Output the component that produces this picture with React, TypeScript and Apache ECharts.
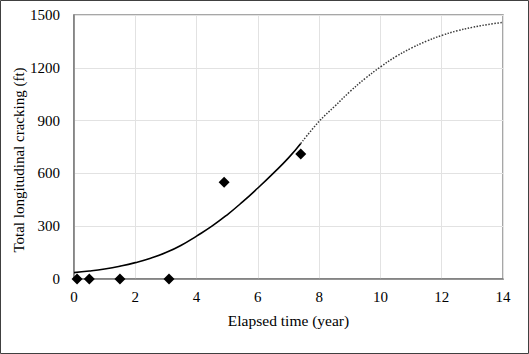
import React, { useEffect, useRef } from "react";
import * as echarts from "echarts";

const xTicks = [0, 2, 4, 6, 8, 10, 12, 14];
const yTicks = [0, 300, 600, 900, 1200, 1500];

const measuredT = [0.1, 0.5, 1.5, 3.1, 4.9, 7.4];
const measuredCracking = [0, 0, 0, 0, 550, 710];

const fitSolidT = [0, 0.5, 1, 1.5, 2, 2.5, 3, 3.5, 4, 4.5, 5, 5.5, 6, 6.5, 7, 7.4];
const fitSolidV = [36, 45, 57, 73, 93, 118, 150, 192, 244, 300, 365, 438, 517, 600, 688, 770];

const fitDottedT = [7.4, 8, 8.5, 9, 9.5, 10, 10.5, 11, 11.5, 12, 12.5, 13, 13.5, 14];
const fitDottedV = [770, 896, 980, 1064, 1139, 1205, 1263, 1311, 1351, 1384, 1410, 1430, 1446, 1458];

const xTitle = "Elapsed time (year)";
const yTitle = "Total longitudinal cracking (ft)";

const FONT = "'Times New Roman', 'Liberation Serif', serif";

export default function App() {
  const ref = useRef<HTMLDivElement>(null);
  useEffect(() => {
    document.body.style.margin = "0";
    const chart = echarts.init(ref.current!, null, { renderer: "svg" });
    chart.setOption({
      animation: false,
      backgroundColor: "#ffffff",
      textStyle: { fontFamily: FONT },
      grid: {
        left: 74,
        top: 15,
        right: 26,
        bottom: 75,
        containLabel: false,
        outerBoundsMode: "none",
        show: true,
        borderColor: "#8a8a8a",
        borderWidth: 1.5,
      },
      xAxis: {
        type: "value",
        min: xTicks[0],
        max: xTicks[xTicks.length - 1],
        interval: 2,
        name: xTitle,
        nameLocation: "middle",
        nameGap: 33,
        nameTextStyle: { fontFamily: FONT, fontSize: 15.5, color: "#000" },
        axisLine: { show: true, lineStyle: { color: "#7a7a7a", width: 1.5 } },
        axisTick: { show: false },
        axisLabel: {
          fontFamily: FONT,
          fontSize: 15,
          color: "#000",
          margin: 10,
          formatter: (v: number) => String(v),
        },
        splitLine: { show: true, lineStyle: { color: "#e2e2e2", width: 1 } },
      },
      yAxis: {
        type: "value",
        min: yTicks[0],
        max: yTicks[yTicks.length - 1],
        interval: 300,
        axisLine: { show: true, lineStyle: { color: "#7a7a7a", width: 1.5 } },
        axisTick: { show: false },
        axisLabel: {
          fontFamily: FONT,
          fontSize: 15,
          color: "#000",
          margin: 14,
          formatter: (v: number) => String(v),
        },
        splitLine: { show: true, lineStyle: { color: "#e2e2e2", width: 1 } },
      },
      graphic: [
        {
          type: "rect",
          shape: { x: 0.5, y: 0.5, width: 528, height: 353 },
          style: { fill: "none", stroke: "#404040", lineWidth: 1 },
          silent: true,
          z: 100,
        },
        {
          type: "text",
          x: 19,
          y: 160,
          rotation: Math.PI / 2,
          style: {
            text: yTitle,
            fontFamily: FONT,
            fontSize: 15,
            fill: "#000",
            align: "center",
            verticalAlign: "middle",
          },
          silent: true,
        },
      ],
      series: [
        {
          type: "line",
          data: fitSolidT.map((t, i) => [t, fitSolidV[i]]),
          smooth: true,
          showSymbol: false,
          lineStyle: { color: "#000", width: 1.6, type: "solid" },
          z: 3,
        },
        {
          type: "line",
          data: fitDottedT.map((t, i) => [t, fitDottedV[i]]),
          smooth: 0.4,
          showSymbol: false,
          lineStyle: { color: "#3a3a3a", width: 1.5, type: [1.5, 1.5] },
          z: 3,
        },
        {
          type: "scatter",
          data: measuredT.map((t, i) => [t, measuredCracking[i]]),
          symbol: "diamond",
          symbolSize: [11, 11],
          itemStyle: { color: "#000", opacity: 1 },
          z: 5,
        },
      ],
    });
    return () => chart.dispose();
  }, []);
  return <div ref={ref} style={{ width: 529, height: 354 }} />;
}
